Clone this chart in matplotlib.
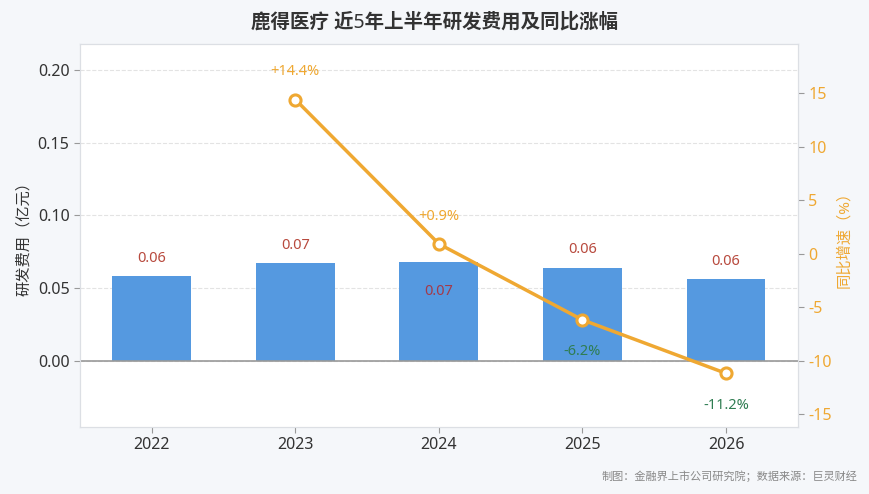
import matplotlib.pyplot as plt
import numpy as np

plt.rcParams['font.family'] = ['Noto Sans', 'Noto Sans CJK SC', 'DejaVu Sans']
plt.rcParams['axes.unicode_minus'] = False

# --- data ---
years = ['2022', '2023', '2024', '2025', '2026']
rd_cost = [0.058, 0.067, 0.068, 0.064, 0.056]        # 亿元
rd_labels = ['0.06', '0.07', '0.07', '0.06', '0.06']
yoy_years = ['2023', '2024', '2025', '2026']
yoy = [14.4, 0.9, -6.2, -11.2]                       # %
yoy_labels = ['+14.4%', '+0.9%', '-6.2%', '-11.2%']

BG = '#f5f7fa'
BAR = '#5599e0'
LINE = '#efa832'
RED = '#b84a3e'
GREEN = '#2f7d52'
SPINE = '#dcdfe4'

fig, ax = plt.subplots(figsize=(8.7, 4.94), dpi=100)
fig.patch.set_facecolor(BG)
ax.set_facecolor('white')
fig.subplots_adjust(left=0.092, right=0.917, top=0.911, bottom=0.136)

x = np.arange(len(years))
ax.bar(x, rd_cost, width=0.55, color=BAR, zorder=2)
ax.axhline(0, color='#999999', lw=1.2, zorder=3)
ax.set_xlim(-0.5, 4.5)
ax.set_ylim(-0.0455, 0.218)
ax.set_yticks([0.0, 0.05, 0.10, 0.15, 0.20])
ax.yaxis.set_major_formatter(plt.FuncFormatter(lambda v, p: f'{v:.2f}'))
ax.set_xticks(x)
ax.set_xticklabels(years)
ax.grid(axis='y', linestyle='--', color='#e3e3e3', lw=0.8, zorder=0)
ax.tick_params(axis='both', colors='#333333', labelsize=11.5, length=4)
ax.tick_params(axis='both', color='#999999')
ax.set_ylabel('研发费用（亿元）', fontsize=11, color='#333333')
for s in ax.spines.values():
    s.set_color(SPINE)

# bar value labels (2024 sits inside the bar because of the line marker)
for i, (v, t) in enumerate(zip(rd_cost, rd_labels)):
    if years[i] == '2024':
        ax.annotate(t, (x[i], v), xytext=(0, -21), textcoords='offset points',
                    ha='center', va='center', fontsize=10.5, color='#a33a4a', zorder=5)
    else:
        ax.annotate(t, (x[i], v), xytext=(0, 13), textcoords='offset points',
                    ha='center', va='center', fontsize=10.5, color=RED, zorder=5)

ax2 = ax.twinx()
xi = [years.index(y) for y in yoy_years]
ax2.plot(xi, yoy, color=LINE, lw=2.5, marker='o', markersize=8,
         markerfacecolor='white', markeredgecolor=LINE, markeredgewidth=2.2, zorder=4)
ax2.set_ylim(-16.2, 19.6)
ax2.set_yticks([-15, -10, -5, 0, 5, 10, 15])
ax2.tick_params(axis='y', colors=LINE, labelsize=11.5, length=4)
ax2.tick_params(axis='y', color='#999999')
ax2.set_ylabel('同比增速（%）', fontsize=11, color=LINE)
for s in ax2.spines.values():
    s.set_color(SPINE)

for xx, v, t in zip(xi, yoy, yoy_labels):
    if v >= 0:
        ax2.annotate(t, (xx, v), xytext=(0, 20), textcoords='offset points',
                     ha='center', va='center', fontsize=10.5, color=LINE)
    else:
        ax2.annotate(t, (xx, v), xytext=(0, -23), textcoords='offset points',
                     ha='center', va='center', fontsize=10.5, color=GREEN)

fig.suptitle('鹿得医疗 近5年上半年研发费用及同比涨幅', fontsize=14, color='#333333',
             fontweight='bold', y=0.975)
fig.text(0.985, 0.035, '制图：金融界上市公司研究院；数据来源：巨灵财经', ha='right',
         va='center', fontsize=8, color='#888888')

fig.savefig('out.png', dpi=100, facecolor=BG)
